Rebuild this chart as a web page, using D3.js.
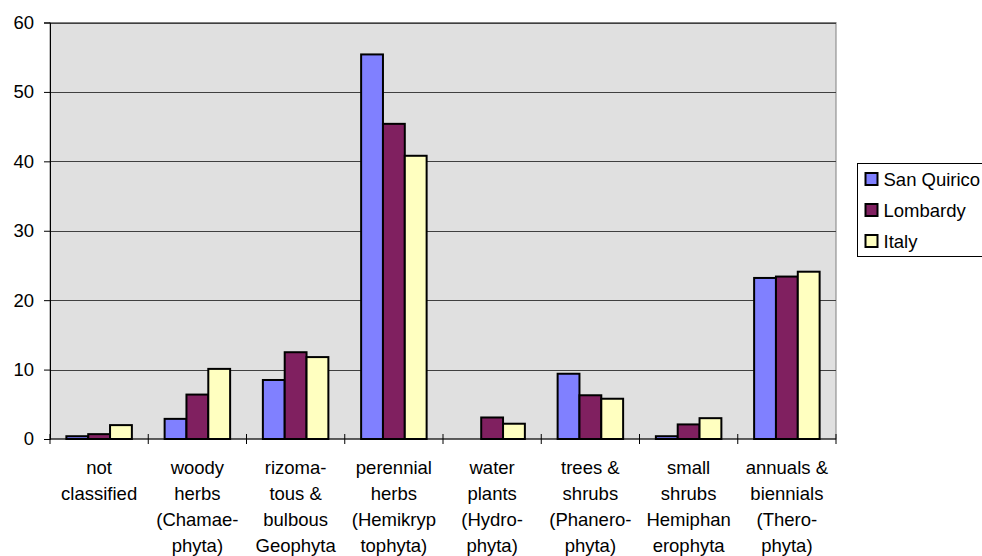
<!DOCTYPE html>
<html>
<head>
<meta charset="utf-8">
<script src="https://cdn.jsdelivr.net/npm/d3@7"></script>
<style>
  body { margin: 0; background: #fff; }
  svg { display: block; font-family: "Liberation Sans", Arial, sans-serif; }
</style>
</head>
<body>
<svg id="chart" width="982" height="556"></svg>
<script>
// categories, one array of lines per group
const categories = [
  ["not", "classified"],
  ["woody", "herbs", "(Chamae-", "phyta)"],
  ["rizoma-", "tous &", "bulbous", "Geophyta"],
  ["perennial", "herbs", "(Hemikryp", "tophyta)"],
  ["water", "plants", "(Hydro-", "phyta)"],
  ["trees &", "shrubs", "(Phanero-", "phyta)"],
  ["small", "shrubs", "Hemiphan", "erophyta"],
  ["annuals &", "biennials", "(Thero-", "phyta)"]
];
const seriesNames = ["San Quirico", "Lombardy", "Italy"];
const sanQuirico = [0.4, 2.9, 8.5, 55.4, 0, 9.4, 0.4, 23.2];
const lombardy   = [0.7, 6.4, 12.5, 45.4, 3.1, 6.3, 2.1, 23.4];
const italy      = [2.0, 10.1, 11.8, 40.8, 2.2, 5.8, 3.0, 24.1];
const yTicks = [0, 10, 20, 30, 40, 50, 60];

const colors = ["#8080ff", "#802060", "#ffffc0"];
const series = [sanQuirico, lombardy, italy];
const fs = 18.5;

const svg = d3.select("#chart");
const plotL = 50, plotR = 836, plotT = 22.5, plotB = 439;

const x = d3.scaleBand().domain(d3.range(categories.length)).range([plotL, plotR]).paddingInner(0).paddingOuter(0);
const y = d3.scaleLinear().domain([0, 60]).range([plotB, plotT]);
// excel style: gap width 150%
const bw = x.bandwidth() / 4.5;
const xs = d3.scaleBand().domain(d3.range(3)).range([bw * 0.75, bw * 3.75]);

// plot background
svg.append("rect")
  .attr("x", plotL).attr("y", plotT)
  .attr("width", plotR - plotL).attr("height", plotB - plotT)
  .attr("fill", "#e0e0e0")
  .attr("stroke", "#808080").attr("stroke-width", 1);

// grid lines
svg.append("g").selectAll("line")
  .data(yTicks.filter(d => d > 0))
  .join("line")
  .attr("x1", plotL).attr("x2", plotR)
  .attr("y1", d => Math.round(y(d)) + 0.5).attr("y2", d => Math.round(y(d)) + 0.5)
  .attr("stroke", "#404040").attr("stroke-width", 1);

// bars
const groups = svg.append("g").selectAll("g")
  .data(series)
  .join("g")
  .attr("fill", (d, i) => colors[i]);

groups.each(function(vals, si) {
  d3.select(this).selectAll("rect")
    .data(vals.map((v, ci) => ({ v, ci })).filter(d => d.v > 0))
    .join("rect")
    .attr("x", d => x(d.ci) + xs(si))
    .attr("width", xs.bandwidth())
    .attr("y", d => y(d.v))
    .attr("height", d => plotB - y(d.v))
    .attr("stroke", "#000")
    .attr("stroke-width", 2);
});

// y axis
const yAxis = svg.append("g")
  .attr("transform", `translate(${plotL},0)`)
  .call(d3.axisLeft(y).tickValues(yTicks).tickSize(6).tickPadding(10));
yAxis.select(".domain").attr("stroke", "#000");
yAxis.selectAll("line").attr("stroke", "#000");
yAxis.selectAll("text").attr("font-size", fs).attr("fill", "#000")
  .attr("font-family", "Liberation Sans, Arial, sans-serif");

// x axis
const xAxis = svg.append("g")
  .attr("transform", `translate(0,${plotB})`);
xAxis.append("line")
  .attr("x1", plotL).attr("x2", plotR).attr("stroke", "#000");
xAxis.selectAll("line.tick")
  .data(d3.range(categories.length + 1))
  .join("line")
  .attr("class", "tick")
  .attr("x1", d => d < categories.length ? x(d) : plotR)
  .attr("x2", d => d < categories.length ? x(d) : plotR)
  .attr("y1", -5).attr("y2", 5)
  .attr("stroke", "#000");

const labels = xAxis.selectAll("text")
  .data(categories)
  .join("text")
  .attr("text-anchor", "middle")
  .attr("font-size", fs)
  .attr("fill", "#000");
labels.each(function(lines, i) {
  d3.select(this).selectAll("tspan")
    .data(lines)
    .join("tspan")
    .attr("x", x(i) + x.bandwidth() / 2)
    .attr("y", (d, j) => 35 + j * 26)
    .text(d => d);
});

// legend
const legend = svg.append("g");
legend.append("rect")
  .attr("x", 857.5).attr("y", 163.5)
  .attr("width", 140).attr("height", 93)
  .attr("fill", "#fff").attr("stroke", "#000");
const items = legend.selectAll("g.item")
  .data(seriesNames)
  .join("g")
  .attr("class", "item")
  .attr("transform", (d, i) => `translate(865,${179 + i * 31})`);
items.append("rect")
  .attr("x", 0.5).attr("y", -6)
  .attr("width", 12).attr("height", 12)
  .attr("fill", (d, i) => colors[i])
  .attr("stroke", "#000").attr("stroke-width", 2);
items.append("text")
  .attr("x", 18.5).attr("y", 6.5)
  .attr("font-size", fs)
  .attr("fill", "#000")
  .text(d => d);
</script>
</body>
</html>
